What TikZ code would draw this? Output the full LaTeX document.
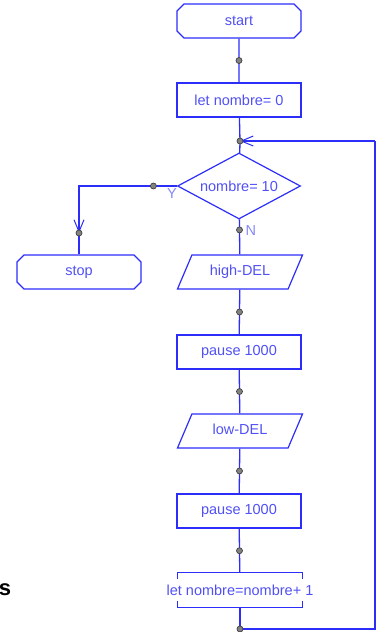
\documentclass[tikz,border=0pt]{standalone}
\usepackage{fontspec}
\setmainfont{Liberation Sans}
\usetikzlibrary{shapes.geometric,shapes.misc,arrows.meta}

\definecolor{flowblue}{RGB}{45,45,250}
\definecolor{textblue}{RGB}{80,80,245}
\definecolor{labelblue}{RGB}{135,135,250}
\definecolor{dotgrey}{RGB}{130,130,130}

\begin{document}
\begin{tikzpicture}[
x=1pt, y=-1pt,
every node/.style={
align=center,
font=\fontsize{14.5}{16}\selectfont,
text=textblue
},
line/.style={draw=flowblue, line width=1.3pt},
arrow/.style={line, -{Straight Barb[length=12pt, width=10pt, line width=1pt]}}
]

% =====================================================
% Styles
% =====================================================

\tikzstyle{terminal} =
[chamfered rectangle,
chamfered rectangle xsep=3.5pt,
chamfered rectangle ysep=3.5pt,
minimum width=124pt, minimum height=34pt,
inner sep=0pt,
draw=flowblue, line width=1.2pt]

\tikzstyle{process} =
[rectangle,
minimum width=124pt, minimum height=34pt,
draw=flowblue, line width=1.2pt]

\tikzstyle{io} =
[trapezium, trapezium stretches body,
trapezium left angle=67, trapezium right angle=113,
minimum width=125pt, text height=10.5pt, text depth=3pt,
inner xsep=0pt, inner ysep=10.2pt,
draw=flowblue, line width=1.2pt]

\tikzstyle{decision} =
[diamond, aspect=2,
minimum width=123pt, minimum height=66pt,
inner sep=1pt,
draw=flowblue, line width=1.2pt]

\tikzstyle{bracket} =
[rectangle,
minimum width=125pt, minimum height=34pt,
inner sep=0pt]

\tikzstyle{dot} =
[circle, fill=dotgrey, draw=black!75, line width=0.7pt,
minimum size=6pt, inner sep=0pt]

% =====================================================
% Nodes
% =====================================================

\useasboundingbox (0,0) rectangle (379,632);

\node (start) [terminal] at (239,21)
{start};

\node (init) [process] at (239,100)
{let nombre= 0};

\coordinate (merge) at (240,141);

\node (test) [decision] at (239,186)
{nombre= 10};

\node (stop) [terminal] at (79,272)
{stop};

\node (high) [io] at (240,272)
{high-DEL};

\node (wait1) [process] at (239,352)
{pause 1000};

\node (low) [io] at (240,431)
{low-DEL};

\node (wait2) [process] at (239,511)
{pause 1000};

\node (incr) [bracket] at (240,590)
{\hspace*{-12pt}let nombre=nombre+ 1\hspace*{-12pt}};

\coordinate (yturn) at (79,186);
\coordinate (yhead) at (79,233);
\coordinate (back) at (240,629);
\coordinate (backr) at (375,629);
\coordinate (backt) at (375,141);

\node (ylab) [text=labelblue] at (172,194) {Y};
\node (nlab) [text=labelblue, anchor=west] at (242,231) {N};

\node (frag) [text=black, font=\fontsize{22}{24}\selectfont\bfseries] at (5,590) {s};

% =====================================================
% Arrows
% =====================================================

\draw [line] (start) -- node [dot] (d1) {} (init);

\draw [line] (init) -- (merge);

\draw [line] (merge) -- (test);

\draw [line] (test.west) -- node [dot, pos=0.24] (d2) {} (yturn) -- (stop);

\draw [arrow] (79,205) -- (yhead);

\draw [line] (test) -- node [dot, pos=0.3] (d3) {} (high);

\draw [line] (high) -- node [dot] (d4) {} (wait1);

\draw [line] (wait1) -- node [dot] (d5) {} (low);

\draw [line] (low) -- node [dot] (d6) {} (wait2);

\draw [line] (wait2) -- node [dot] (d7) {} (incr);

\draw [line] (incr) -- (back) -- (backr) -- (backt);

\draw [arrow] (backt) -- (merge);

\node (dy) [dot] at (yhead) {};
\node (dm) [dot] at (merge) {};
\node (db) [dot] at (back) {};

% bracket outline of the last step
\draw [line, line width=1.2pt]
([yshift=-6pt]incr.north west) -- (incr.north west) -- (incr.north east) -- ([yshift=-6pt]incr.north east)
([yshift=6pt]incr.south west) -- (incr.south west) -- (incr.south east) -- ([yshift=6pt]incr.south east);

\end{tikzpicture}
\end{document}
